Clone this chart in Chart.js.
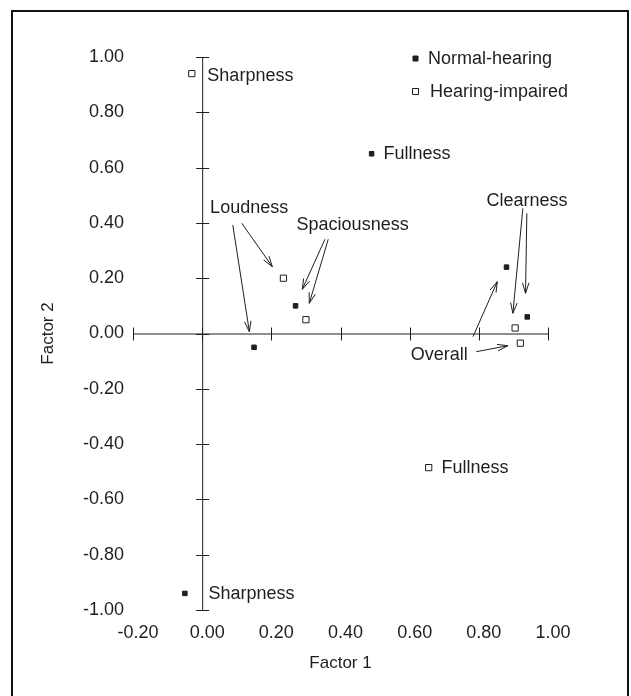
<!DOCTYPE html>
<html>
<head>
<meta charset="utf-8">
<script src="https://cdn.jsdelivr.net/npm/chart.js@4.4.1/dist/chart.umd.min.js"></script>
<style>
  html, body { margin: 0; padding: 0; background: #fff; }
  #wrap { width: 631px; height: 696px; }
</style>
</head>
<body>
<div id="wrap"><canvas id="factorChart" width="631" height="696"></canvas></div>
<script>
// Data
const factors = ['Sharpness', 'Fullness', 'Loudness', 'Spaciousness', 'Clearness', 'Overall'];
const normalF1 = [-0.05, 0.49, 0.15, 0.27, 0.94, 0.88];
const normalF2 = [-0.94, 0.65, -0.05, 0.10, 0.06, 0.24];
const impairedF1 = [-0.03, 0.655, 0.235, 0.30, 0.905, 0.92];
const impairedF2 = [0.94, -0.485, 0.20, 0.05, 0.02, -0.035];
const xTicks = [-0.2, 0, 0.2, 0.4, 0.6, 0.8, 1.0];
const yTicks = [-1.0, -0.8, -0.6, -0.4, -0.2, 0, 0.2, 0.4, 0.6, 0.8, 1.0];

// Text labels and arrows, placed in data units
const notes = [
    { text: 'Sharpness', x: 0.015, y: 0.93 },
    { text: 'Sharpness', x: 0.018, y: -0.943 },
    { text: 'Fullness', x: 0.524, y: 0.648 },
    { text: 'Fullness', x: 0.692, y: -0.488 },
    { text: 'Loudness', x: 0.023, y: 0.453 },
    { text: 'Spaciousness', x: 0.273, y: 0.392 },
    { text: 'Clearness', x: 0.822, y: 0.479 },
    { text: 'Overall', x: 0.603, y: -0.078 }
];
const arrows = [
    [0.0886, 0.392, 0.1365, 0.0065],
    [0.1146, 0.3986, 0.2029, 0.2416],
    [0.355, 0.3407, 0.2895, 0.1599],
    [0.3645, 0.3407, 0.3097, 0.1092],
    [0.9273, 0.4528, 0.8984, 0.0731],
    [0.9388, 0.4347, 0.9351, 0.1454],
    [0.783, -0.0116, 0.8534, 0.1873],
    [0.7928, -0.0658, 0.884, -0.0441]
];

const FONT = "'Liberation Sans', Arial, sans-serif";
const INK = '#1e1e1e';

function fmt(v) {
    if (Math.abs(v) < 1e-9) return '0.00';
    return v.toFixed(2);
}

function toPoints(xs, ys) {
    return xs.map((x, i) => ({ x: x, y: ys[i], name: factors[i] }));
}

// Axes crossing at the origin, with cross ticks
const crossAxes = {
    id: 'crossAxes',
    beforeDatasetsDraw(chart) {
        const { ctx, scales: { x, y } } = chart;
        const x0 = x.getPixelForValue(0);
        const y0 = y.getPixelForValue(0);
        ctx.save();
        ctx.strokeStyle = INK;
        ctx.lineWidth = 1;
        ctx.beginPath();
        ctx.moveTo(x0 + 0.5, y.getPixelForValue(yTicks[yTicks.length - 1]));
        ctx.lineTo(x0 + 0.5, y.getPixelForValue(yTicks[0]));
        ctx.moveTo(x.getPixelForValue(xTicks[0]), y0 + 0.5);
        ctx.lineTo(x.getPixelForValue(xTicks[xTicks.length - 1]), y0 + 0.5);
        yTicks.forEach(v => {
            const p = Math.round(y.getPixelForValue(v)) + 0.5;
            ctx.moveTo(x0 - 6, p);
            ctx.lineTo(x0 + 7, p);
        });
        xTicks.forEach(v => {
            const p = Math.round(x.getPixelForValue(v)) + 0.5;
            ctx.moveTo(p, y0 - 6);
            ctx.lineTo(p, y0 + 7);
        });
        ctx.stroke();
        ctx.restore();
    },
    afterDatasetsDraw(chart) {
        const { ctx, scales: { x, y } } = chart;
        ctx.save();
        ctx.fillStyle = INK;
        ctx.strokeStyle = INK;
        ctx.lineWidth = 1;
        ctx.font = '18px ' + FONT;
        ctx.textAlign = 'left';
        ctx.textBaseline = 'middle';
        notes.forEach(n => {
            ctx.fillText(n.text, x.getPixelForValue(n.x), y.getPixelForValue(n.y));
        });

        // arrows with open heads
        arrows.forEach(a => {
            const x1 = x.getPixelForValue(a[0]), y1 = y.getPixelForValue(a[1]);
            const x2 = x.getPixelForValue(a[2]), y2 = y.getPixelForValue(a[3]);
            const ang = Math.atan2(y2 - y1, x2 - x1);
            const len = 11, spread = 0.3;
            ctx.beginPath();
            ctx.moveTo(x1, y1);
            ctx.lineTo(x2, y2);
            ctx.moveTo(x2 - len * Math.cos(ang - spread), y2 - len * Math.sin(ang - spread));
            ctx.lineTo(x2, y2);
            ctx.lineTo(x2 - len * Math.cos(ang + spread), y2 - len * Math.sin(ang + spread));
            ctx.stroke();
        });

        // legend in the upper right corner
        const lx = chart.chartArea.right - 133;
        const ly = chart.chartArea.top + 1;
        chart.data.datasets.forEach((ds, i) => {
            const cy = ly + i * 33;
            const s = i === 0 ? 5 : 6;
            ctx.beginPath();
            ctx.rect(lx - s / 2 + 0.5, cy - s / 2 + 0.5, s, s);
            if (i === 0) {
                ctx.fillStyle = INK;
                ctx.fill();
            } else {
                ctx.fillStyle = '#fff';
                ctx.fill();
            }
            ctx.stroke();
            ctx.fillStyle = INK;
            ctx.fillText(ds.label, lx + 13 + i * 2, cy + 1);
        });
        ctx.restore();
    },
    afterDraw(chart) {
        const ctx = chart.ctx;
        ctx.save();
        ctx.strokeStyle = '#111';
        ctx.lineWidth = 2;
        ctx.strokeRect(12, 11, 616, 700);
        ctx.restore();
    }
};

const ctx = document.getElementById('factorChart').getContext('2d');

const factorChart = new Chart(ctx, {
    type: 'scatter',
    data: {
        datasets: [{
            label: 'Normal-hearing',
            data: toPoints(normalF1, normalF2),
            pointStyle: 'rect',
            pointRadius: 3.2,
            borderWidth: 1,
            backgroundColor: INK,
            borderColor: INK
        }, {
            label: 'Hearing-impaired',
            data: toPoints(impairedF1, impairedF2),
            pointStyle: 'rect',
            pointRadius: 4.4,
            borderWidth: 1,
            backgroundColor: '#fff',
            borderColor: INK
        }]
    },
    options: {
        responsive: false,
        devicePixelRatio: 1,
        animation: false,
        layout: { padding: { left: 0, right: 83, top: 57, bottom: 0 } },
        plugins: {
            legend: { display: false },
            tooltip: { enabled: false }
        },
        scales: {
            x: {
                type: 'linear',
                min: -0.2,
                max: 1.0,
                grid: { display: false, drawTicks: false },
                border: { display: false },
                afterBuildTicks: scale => { scale.ticks = xTicks.map(v => ({ value: v })); },
                afterFit: scale => { scale.height = 86; },
                ticks: {
                    autoSkip: false,
                    maxRotation: 0,
                    padding: 12,
                    labelOffset: 5,
                    color: INK,
                    font: { family: FONT, size: 18 },
                    callback: v => fmt(v)
                },
                title: {
                    display: true,
                    text: 'Factor 1',
                    color: INK,
                    font: { family: FONT, size: 17 },
                    padding: { top: 0, bottom: 22 }
                }
            },
            y: {
                type: 'linear',
                min: -1.0,
                max: 1.0,
                grid: { display: false, drawTicks: false },
                border: { display: false },
                afterBuildTicks: scale => { scale.ticks = yTicks.map(v => ({ value: v })); },
                afterFit: scale => { scale.width = 133; },
                ticks: {
                    autoSkip: false,
                    padding: 9,
                    color: INK,
                    font: { family: FONT, size: 18 },
                    callback: v => fmt(v)
                },
                title: {
                    display: true,
                    text: 'Factor 2',
                    color: INK,
                    font: { family: FONT, size: 17 },
                    padding: { top: 38, bottom: 0 }
                }
            }
        }
    },
    plugins: [crossAxes]
});
</script>
</body>
</html>
